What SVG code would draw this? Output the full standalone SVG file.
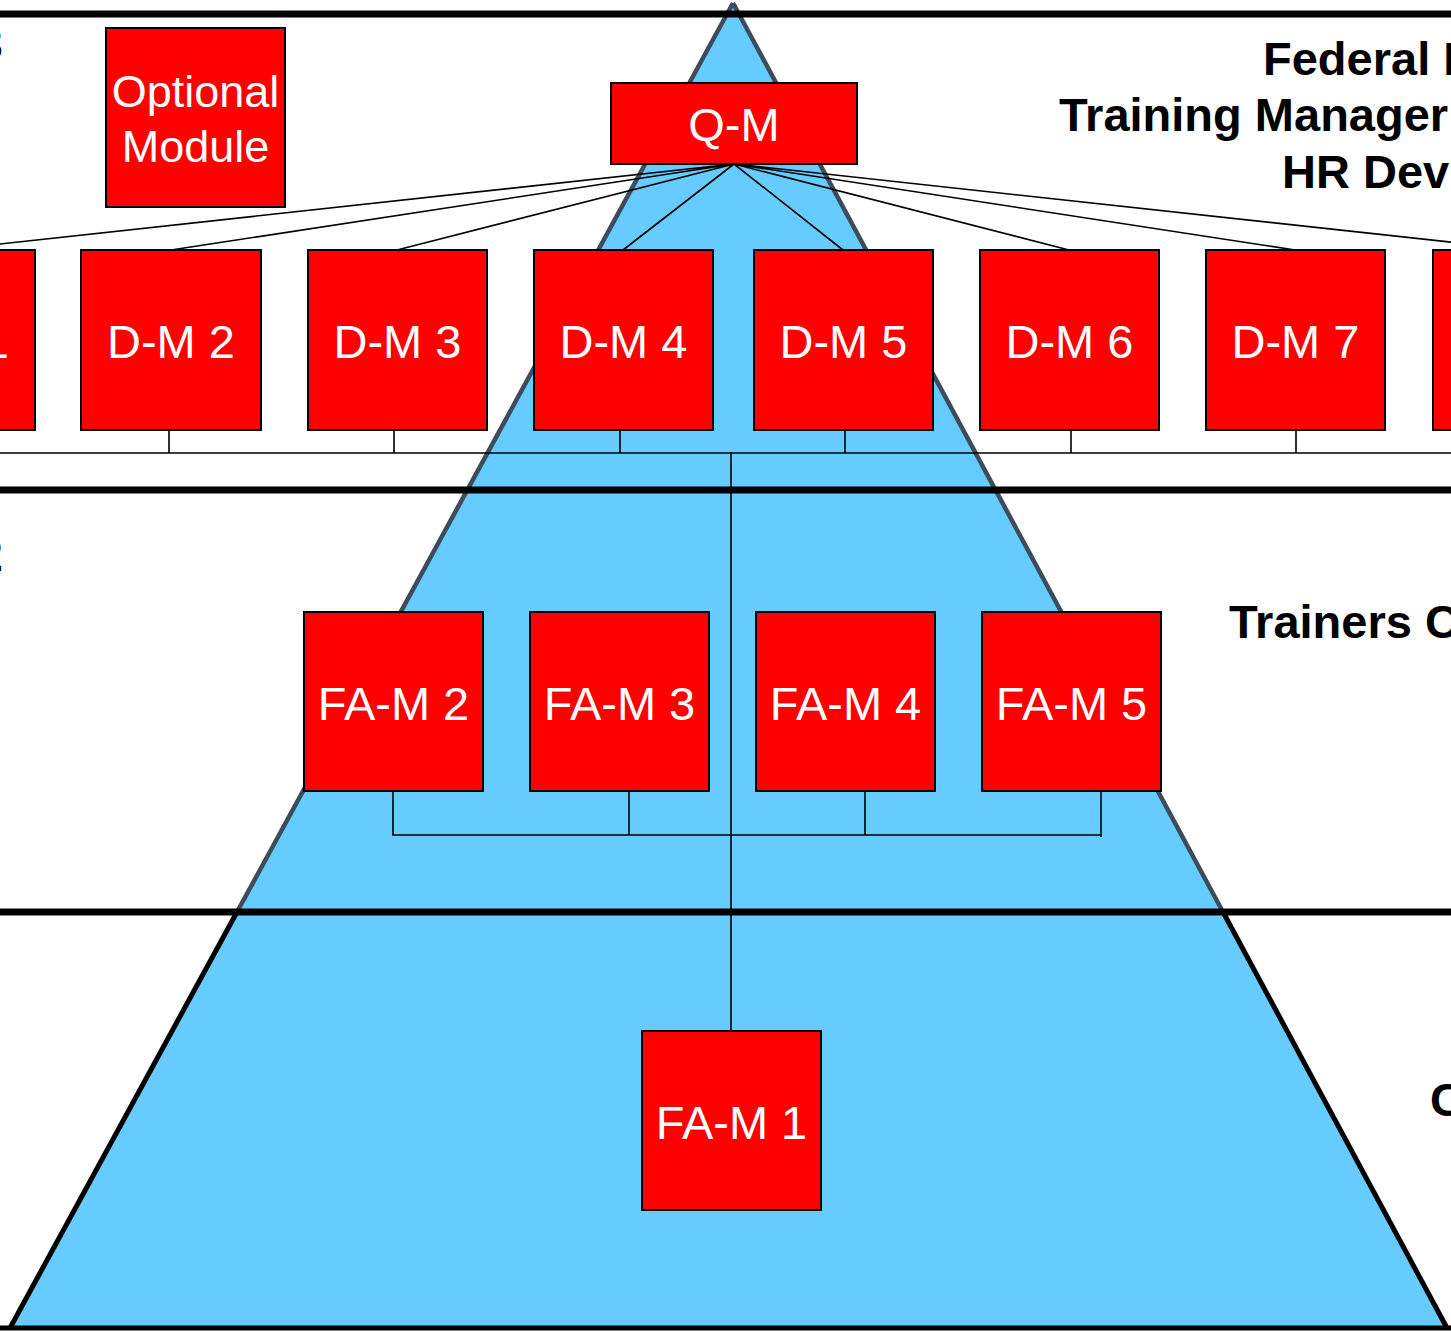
<svg xmlns="http://www.w3.org/2000/svg" width="1451" height="1331" viewBox="0 0 1451 1331">
<style>
.box{fill:#FF0000;stroke:#000;stroke-width:2}
.bt{font-family:"Liberation Sans",Arial,sans-serif;font-size:47px;fill:#fff;text-anchor:middle}
.lbl{font-family:"Liberation Sans",Arial,sans-serif;font-size:47px;font-weight:bold;fill:#000}
.band{stroke:#000;stroke-width:7}
.conn{stroke:#000;stroke-width:1.6;fill:none}
</style>
<rect x="0" y="0" width="1451" height="1331" fill="#fff"/>
<g id="pyramid">
<polygon points="733,3 10,1328 1447,1328" fill="#66CCFF"/>
<line x1="733" y1="3" x2="237" y2="912" stroke="#3c4c58" stroke-width="4.5"/>
<line x1="733" y1="3" x2="1223" y2="912" stroke="#3c4c58" stroke-width="4.5"/>
<line x1="237" y1="912" x2="10" y2="1328" stroke="#000" stroke-width="5"/>
<line x1="1223" y1="912" x2="1447" y2="1328" stroke="#000" stroke-width="5"/>
</g>
<g id="bands">
<line class="band" x1="0" y1="14" x2="1451" y2="14"/>
<line class="band" x1="0" y1="490" x2="1451" y2="490"/>
<line class="band" x1="0" y1="912" x2="1451" y2="912"/>
<line x1="0" y1="1328" x2="1451" y2="1328" stroke="#000" stroke-width="5"/>
</g>
<g id="labels">
<text class="lbl" x="3" y="60" text-anchor="end">3</text>
<text class="lbl" x="3" y="571" text-anchor="end">2</text>
<text class="lbl" x="1263" y="75">Federal I</text>
<text class="lbl" x="1059" y="131">Training Manager</text>
<text class="lbl" x="1282" y="188">HR Dev</text>
<text class="lbl" x="1229" y="638">Trainers C</text>
<text class="lbl" x="1430" y="1116">C</text>
</g>
<g id="connectors">
<path class="conn" d="M734,164 L-55,250 M734,164 L171,250 M734,164 L397,250 M734,164 L623,250 M734,164 L843,250 M734,164 L1069,250 M734,164 L1295,250 M734,164 L1523,250"/>
<path class="conn" d="M169,430 V453 M394,430 V453 M620,426 V453 M845,426 V453 M1071,430 V453 M1296,430 V453 M0,453 H1451"/>
<path class="conn" d="M731,452 V1031"/>
<path class="conn" d="M393,791 V835 M629,791 V835 M865,791 V835 M1101,791 V837 M392,835 H1101"/>
</g>
<g id="optional-module"><rect class="box" x="106" y="28" width="179" height="179"/><text class="bt" x="195.5" y="107" style="font-size:45px">Optional</text><text class="bt" x="195.5" y="162" style="font-size:45px">Module</text></g>
<g id="q-m"><rect class="box" x="611" y="83" width="246" height="81"/><text class="bt" x="734" y="141">Q-M</text></g>
<g id="d-m-1"><rect class="box" x="-145" y="250" width="180" height="180"/><text class="bt" x="-55" y="358">D-M 1</text></g>
<g id="d-m-2"><rect class="box" x="81" y="250" width="180" height="180"/><text class="bt" x="171" y="358">D-M 2</text></g>
<g id="d-m-3"><rect class="box" x="308" y="250" width="179" height="180"/><text class="bt" x="397.5" y="358">D-M 3</text></g>
<g id="d-m-4"><rect class="box" x="534" y="250" width="179" height="180"/><text class="bt" x="623.5" y="358">D-M 4</text></g>
<g id="d-m-5"><rect class="box" x="754" y="250" width="179" height="180"/><text class="bt" x="843.5" y="358">D-M 5</text></g>
<g id="d-m-6"><rect class="box" x="980" y="250" width="179" height="180"/><text class="bt" x="1069.5" y="358">D-M 6</text></g>
<g id="d-m-7"><rect class="box" x="1206" y="250" width="179" height="180"/><text class="bt" x="1295.5" y="358">D-M 7</text></g>
<g id="d-m-8"><rect class="box" x="1433" y="250" width="180" height="180"/><text class="bt" x="1523" y="358">D-M 8</text></g>
<g id="fa-m-2"><rect class="box" x="304" y="612" width="179" height="179"/><text class="bt" x="393.5" y="720">FA-M 2</text></g>
<g id="fa-m-3"><rect class="box" x="530" y="612" width="179" height="179"/><text class="bt" x="619.5" y="720">FA-M 3</text></g>
<g id="fa-m-4"><rect class="box" x="756" y="612" width="179" height="179"/><text class="bt" x="845.5" y="720">FA-M 4</text></g>
<g id="fa-m-5"><rect class="box" x="982" y="612" width="179" height="179"/><text class="bt" x="1071.5" y="720">FA-M 5</text></g>
<g id="fa-m-1"><rect class="box" x="642" y="1031" width="179" height="179"/><text class="bt" x="731.5" y="1139">FA-M 1</text></g>
</svg>
